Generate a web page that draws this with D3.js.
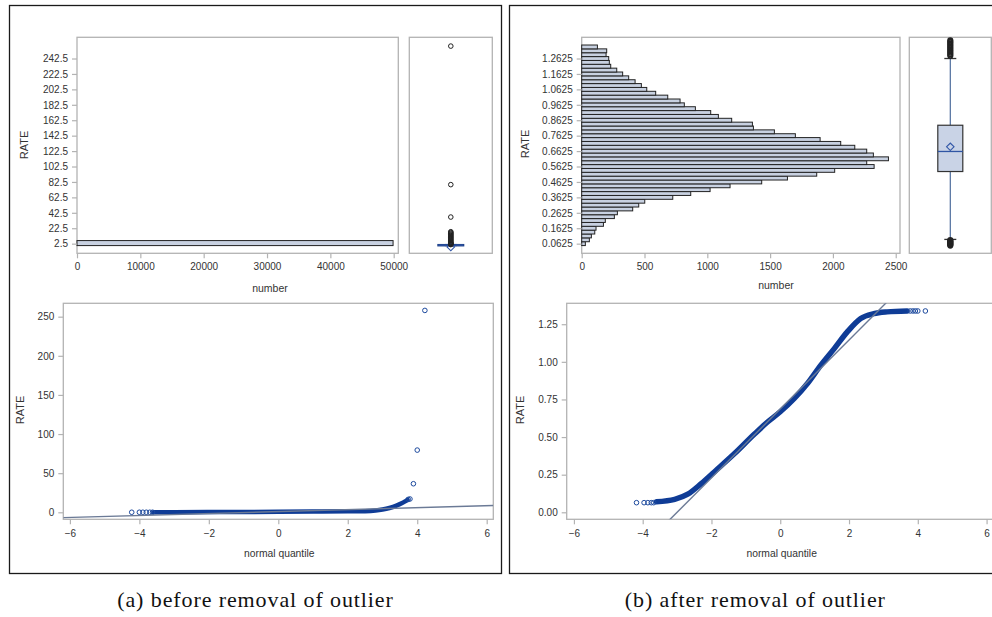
<!DOCTYPE html>
<html>
<head>
<meta charset="utf-8">
<script src="https://cdnjs.cloudflare.com/ajax/libs/d3/7.8.5/d3.min.js"></script>
<style>
  body { margin: 0; background: #fff; }
  svg { display: block; }
  .tick text, .lbl { font-family: "Liberation Sans", Arial, sans-serif; fill: #333; }
  .cap { font-family: "Liberation Serif", "DejaVu Serif", serif; fill: #111; }
</style>
</head>
<body>
<div id="chart"></div>
<script>
// ---------- (a) before removal of outlier ----------
const rateTicksA = [2.5, 22.5, 42.5, 62.5, 82.5, 102.5, 122.5, 142.5, 162.5, 182.5, 202.5, 222.5, 242.5];
const numberTicksA = [0, 10000, 20000, 30000, 40000, 50000];
const binLoA = [0];
const binHiA = [6.5];
const countA = [49900];

// whisker low, Q1, median, Q3, whisker high
const boxA = [0.09, 0.53, 0.66, 0.83, 1.27];
const meanA = 0.69;
const outliersA = [1.3, 1.6, 2.0, 2.5, 3.0, 3.5, 4.0, 5.0, 6.0, 7.0, 8.0, 9.0, 10.0, 11.0, 12.0,
  13.0, 14.0, 15.0, 16.0, 17.0, 18.0, 37.0, 79.0, 258.6];

const qqTicksX = [-6, -4, -2, 0, 2, 4, 6];
const qqTicksYA = [0, 50, 100, 150, 200, 250];
const qqBandA_q = [-3.6, -3.0, -2.0, -1.0, 0, 1.0, 2.0, 2.5, 2.8, 3.0, 3.2, 3.4, 3.55, 3.65, 3.72];
const qqBandA_rate = [0.06, 0.09, 0.25, 0.45, 0.67, 0.92, 1.2, 1.4, 2.2, 3.5, 5.5, 8.5, 11.5, 14.0, 16.0];
const qqDotsA_q = [-4.22, -4.0, -3.9, -3.8, -3.7, -3.62, 3.74, 3.79, 3.89, 4.0, 4.22];
const qqDotsA_rate = [0.06, 0.06, 0.06, 0.06, 0.06, 0.06, 16.5, 17.0, 36.5, 79.5, 258.0];
const refLineA = [0.9, 1.25]; // intercept, slope

// ---------- (b) after removal of outlier ----------
const rateTicksB = [0.0625, 0.1625, 0.2625, 0.3625, 0.4625, 0.5625, 0.6625, 0.7625, 0.8625, 0.9625, 1.0625, 1.1625, 1.2625];
const numberTicksB = [0, 500, 1000, 1500, 2000, 2500];
const binMidB = [0.0625, 0.0875, 0.1125, 0.1375, 0.1625, 0.1875, 0.2125, 0.2375, 0.2625, 0.2875,
  0.3125, 0.3375, 0.3625, 0.3875, 0.4125, 0.4375, 0.4625, 0.4875, 0.5125, 0.5375,
  0.5625, 0.5875, 0.6125, 0.6375, 0.6625, 0.6875, 0.7125, 0.7375, 0.7625, 0.7875,
  0.8125, 0.8375, 0.8625, 0.8875, 0.9125, 0.9375, 0.9625, 0.9875, 1.0125, 1.0375,
  1.0625, 1.0875, 1.1125, 1.1375, 1.1625, 1.1875, 1.2125, 1.2375, 1.2625, 1.2875,
  1.3125, 1.3375];
const countB = [29, 61, 77, 104, 114, 173, 188, 260, 284, 406,
  454, 502, 725, 868, 1022, 1181, 1433, 1638, 1871, 2014,
  2328, 2269, 2442, 2322, 2269, 2174, 2062, 1898, 1701, 1534,
  1367, 1359, 1194, 1088, 1027, 905, 817, 783, 685, 589,
  518, 475, 425, 374, 326, 279, 231, 220, 215, 194,
  199, 125];
const binWidthB = 0.025;

const boxB = [0.09, 0.53, 0.66, 0.83, 1.2625];
const meanB = 0.69;
const outliersB = [0.05, 0.055, 0.06, 0.065, 0.07, 0.075, 0.08, 0.085,
  1.28, 1.29, 1.30, 1.31, 1.32, 1.33, 1.34, 1.35, 1.36, 1.37, 1.38];

const qqTicksYB = [0, 0.25, 0.5, 0.75, 1.0, 1.25];
const qqBandB_q = [-3.6, -3.07, -2.69, -2.3, -1.91, -1.33, -0.75, -0.37, 0, 0.41, 0.79, 1.18, 1.57, 1.95, 2.34, 2.72, 3.11, 3.69];
const qqBandB_rate = [0.07, 0.086, 0.12, 0.19, 0.27, 0.39, 0.52, 0.60, 0.668, 0.757, 0.856, 0.978, 1.088, 1.199, 1.288, 1.32, 1.332, 1.338];
const qqDotsB_q = [-4.18, -3.96, -3.85, -3.75, -3.68, 3.78, 3.86, 3.93, 4.0, 4.22];
const qqDotsB_rate = [0.064, 0.064, 0.064, 0.064, 0.064, 1.338, 1.338, 1.338, 1.338, 1.338];
const refLineB = [0.687, 0.229];

// ---------- drawing ----------
const width = 992, height = 617;
const svg = d3.select("#chart").append("svg").attr("width", width).attr("height", height);

const frameColor = "#b3b3b3";
const barFill = "#c8d1e1";
const markBlue = "#0f3c96";

function frame(x, y, w, h) {
  svg.append("rect").attr("x", x).attr("y", y).attr("width", w).attr("height", h)
    .attr("fill", "none").attr("stroke", frameColor).attr("stroke-width", 1.3);
}

function styleAxis(g) {
  g.select(".domain").remove();
  g.selectAll(".tick line").attr("stroke", frameColor).attr("stroke-width", 1.2);
  g.selectAll(".tick text").attr("font-size", 10).attr("fill", "#333");
}

function label(txt, x, y, size, rotate) {
  const t = svg.append("text").attr("class", "lbl").attr("font-size", size)
    .attr("text-anchor", "middle").text(txt);
  if (rotate) t.attr("transform", `translate(${x},${y}) rotate(-90)`);
  else t.attr("x", x).attr("y", y);
}

function histogram(p) {
  const x = d3.scaleLinear().domain(p.xDomain).range([p.x, p.x + p.w]);
  const y = d3.scaleLinear().domain(p.yDomain).range([p.y + p.h, p.y]);
  frame(p.x, p.y, p.w, p.h);
  svg.append("g").selectAll("rect").data(p.counts).join("rect")
    .attr("x", x(0))
    .attr("y", (d, i) => y(p.hi[i]))
    .attr("width", (d) => x(d) - x(0))
    .attr("height", (d, i) => y(p.lo[i]) - y(p.hi[i]))
    .attr("fill", barFill).attr("stroke", "#222").attr("stroke-width", 1);
  svg.append("g").attr("transform", `translate(${p.x},0)`)
    .call(d3.axisLeft(y).tickValues(p.yTicks).tickSize(5).tickPadding(4).tickFormat(p.yFmt))
    .call(styleAxis);
  svg.append("g").attr("transform", `translate(0,${p.y + p.h})`)
    .call(d3.axisBottom(x).tickValues(p.xTicks).tickSize(5).tickPadding(5).tickFormat(d3.format("d")))
    .call(styleAxis);
  return y;
}

function boxplot(p, y) {
  frame(p.x, p.y, p.w, p.h);
  const cx = p.x + p.w / 2;
  const [lo, q1, med, q3, hi] = p.stats;
  const g = svg.append("g");
  g.append("line").attr("x1", cx).attr("x2", cx).attr("y1", y(q3)).attr("y2", y(hi))
    .attr("stroke", "#4d6c9c").attr("stroke-width", 1.2);
  g.append("line").attr("x1", cx).attr("x2", cx).attr("y1", y(q1)).attr("y2", y(lo))
    .attr("stroke", "#4d6c9c").attr("stroke-width", 1.2);
  [lo, hi].forEach((v) => {
    g.append("line").attr("x1", cx - 6).attr("x2", cx + 6).attr("y1", y(v)).attr("y2", y(v))
      .attr("stroke", "#333").attr("stroke-width", 1.3);
  });
  g.append("rect").attr("x", cx - 12.5).attr("width", 25)
    .attr("y", y(q3)).attr("height", Math.max(0.5, y(q1) - y(q3)))
    .attr("fill", "#c9d3e6").attr("stroke", p.compact ? "#1d3f86" : "#333")
    .attr("stroke-width", p.compact ? 2 : 1.2);
  g.append("line").attr("x1", cx - 12.5).attr("x2", cx + 12.5).attr("y1", y(med)).attr("y2", y(med))
    .attr("stroke", "#2f55a4").attr("stroke-width", 1.3);
  g.append("path")
    .attr("d", d3.symbol(d3.symbolSquare, 28)())
    .attr("transform", `translate(${cx},${y(p.mean) + (p.compact ? 2 : 0)}) rotate(45)`)
    .attr("fill", "none").attr("stroke", "#3358a8").attr("stroke-width", 1.1);
  g.selectAll("circle").data(p.outliers).join("circle")
    .attr("cx", cx).attr("cy", (d) => y(d)).attr("r", 2.3)
    .attr("fill", "none").attr("stroke", "#222").attr("stroke-width", p.compact ? 1 : 1.6);
}

let clipId = 0;
function qqplot(p) {
  const x = d3.scaleLinear().domain(p.xDomain).range([p.x, p.x + p.w]);
  const y = d3.scaleLinear().domain(p.yDomain).range([p.y + p.h, p.y]);
  const id = "clip" + (clipId++);
  svg.append("clipPath").attr("id", id).append("rect")
    .attr("x", p.x).attr("y", p.y).attr("width", p.w).attr("height", p.h);
  frame(p.x, p.y, p.w, p.h);
  svg.append("g").attr("transform", `translate(${p.x},0)`)
    .call(d3.axisLeft(y).tickValues(p.yTicks).tickSize(5).tickPadding(4).tickFormat(p.yFmt))
    .call(styleAxis);
  svg.append("g").attr("transform", `translate(0,${p.y + p.h})`)
    .call(d3.axisBottom(x).tickValues(qqTicksX).tickSize(5).tickPadding(6).tickFormat(d3.format("d")))
    .call(styleAxis);
  const g = svg.append("g").attr("clip-path", `url(#${id})`);
  const band = p.bandQ.map((q, i) => [q, p.bandRate[i]]);
  g.append("path").datum(band)
    .attr("d", d3.line().x((d) => x(d[0])).y((d) => y(d[1])).curve(d3.curveMonotoneX))
    .attr("fill", "none").attr("stroke", markBlue).attr("stroke-width", p.bandW)
    .attr("stroke-linecap", "round").attr("stroke-linejoin", "round");
  g.selectAll("circle").data(p.dotsQ).join("circle")
    .attr("cx", (d) => x(d)).attr("cy", (d, i) => y(p.dotsRate[i])).attr("r", 2.3)
    .attr("fill", "none").attr("stroke", "#1d4a9e").attr("stroke-width", 1);
  const [b0, b1] = p.refLine;
  g.append("line")
    .attr("x1", x(p.xDomain[0])).attr("y1", y(b0 + b1 * p.xDomain[0]))
    .attr("x2", x(p.xDomain[1])).attr("y2", y(b0 + b1 * p.xDomain[1]))
    .attr("stroke", "#6b7a96").attr("stroke-width", 1.4);
}

// outer panel frames
svg.append("rect").attr("x", 9.5).attr("y", 5.5).attr("width", 492).attr("height", 568)
  .attr("fill", "none").attr("stroke", "#1a1a1a").attr("stroke-width", 1.3);
svg.append("rect").attr("x", 509.5).attr("y", 5.5).attr("width", 492).attr("height", 568)
  .attr("fill", "none").attr("stroke", "#1a1a1a").attr("stroke-width", 1.3);

// (a) histogram + box
const yA = histogram({
  x: 77, y: 37.3, w: 321.3, h: 216,
  xDomain: [0, 50726], yDomain: [-10, 270],
  counts: countA, lo: binLoA, hi: binHiA,
  xTicks: numberTicksA, yTicks: rateTicksA, yFmt: d3.format(".1f")
});
boxplot({ x: 409.3, y: 37.3, w: 83, h: 216, stats: boxA, mean: meanA, outliers: outliersA, compact: true }, yA);
label("RATE", 28, 145, 11, true);
label("number", 270, 291.5, 10.5);

// (b) histogram + box
const yB = histogram({
  x: 581.7, y: 37.3, w: 318.3, h: 216,
  xDomain: [0, 2534], yDomain: [0, 1.4],
  counts: countB,
  lo: binMidB.map((m) => m - binWidthB / 2),
  hi: binMidB.map((m) => m + binWidthB / 2),
  xTicks: numberTicksB, yTicks: rateTicksB, yFmt: d3.format(".4f")
});
boxplot({ x: 909.3, y: 37.3, w: 82, h: 216, stats: boxB, mean: meanB, outliers: outliersB, compact: false }, yB);
label("RATE", 528.5, 144, 11, true);
label("number", 776, 289, 10.5);

// (a) QQ plot
qqplot({
  x: 63.3, y: 303.3, w: 430, h: 216,
  xDomain: [-6.19, 6.19], yDomain: [-8.95, 267.1],
  yTicks: qqTicksYA, yFmt: d3.format("d"),
  bandQ: qqBandA_q, bandRate: qqBandA_rate, bandW: 4.5,
  dotsQ: qqDotsA_q, dotsRate: qqDotsA_rate, refLine: refLineA
});
label("RATE", 24, 410, 11, true);
label("normal quantile", 279.3, 557, 10.3);

// (b) QQ plot
qqplot({
  x: 566.7, y: 303.3, w: 427.1, h: 216,
  xDomain: [-6.21, 6.21], yDomain: [-0.0465, 1.389],
  yTicks: qqTicksYB, yFmt: d3.format(".2f"),
  bandQ: qqBandB_q, bandRate: qqBandB_rate, bandW: 5.5,
  dotsQ: qqDotsB_q, dotsRate: qqDotsB_rate, refLine: refLineB
});
label("RATE", 524, 410, 11, true);
label("normal quantile", 781.7, 556.5, 10.3);

// captions
svg.append("text").attr("class", "cap").attr("x", 255.5).attr("y", 607).attr("text-anchor", "middle")
  .attr("font-size", 22).attr("letter-spacing", 0.9).text("(a) before removal of outlier");
svg.append("text").attr("class", "cap").attr("x", 755.3).attr("y", 607).attr("text-anchor", "middle")
  .attr("font-size", 22).attr("letter-spacing", 0.9).text("(b) after removal of outlier");
</script>
</body>
</html>
